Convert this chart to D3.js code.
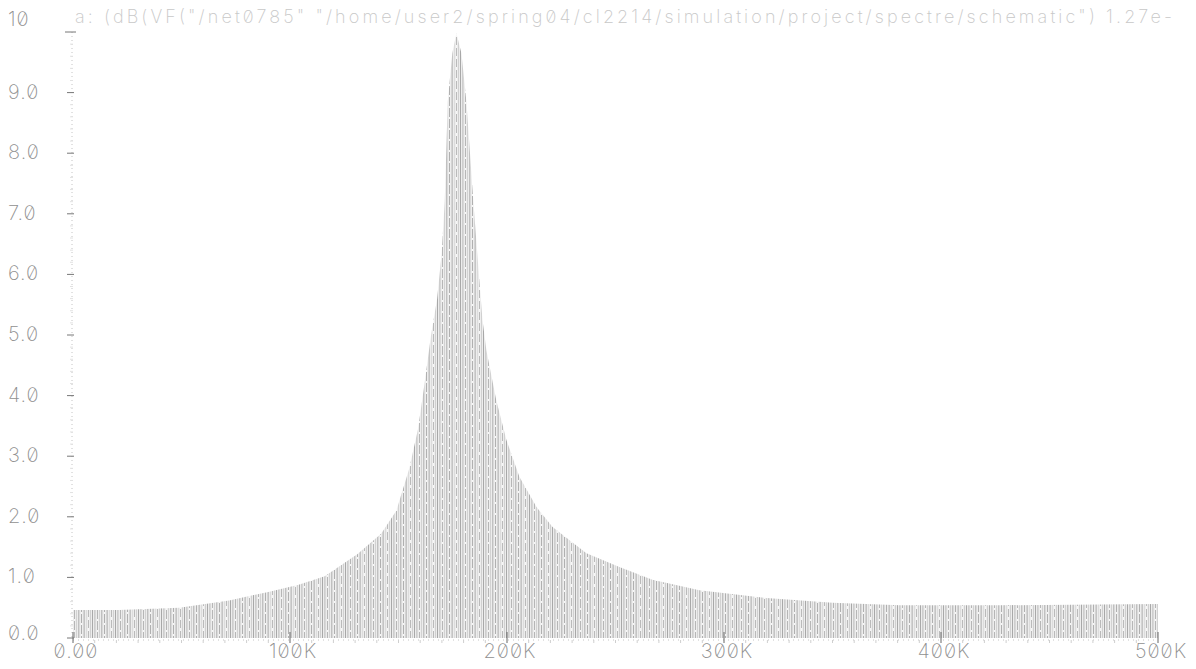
<!DOCTYPE html>
<html>
<head>
<meta charset="utf-8">
<script src="https://cdn.jsdelivr.net/npm/d3@7"></script>
<style>
  html, body { margin: 0; padding: 0; background: #fff; }
  svg text { font-family: Inter, "DejaVu Sans", sans-serif; font-weight: 200; font-feature-settings: "zero" 1; }
</style>
</head>
<body>
<svg width="1196" height="669"></svg>
<script>
"use strict";

// envelope of the trace (frequency in kHz, magnitude)
const freqK = [0, 21, 49, 72, 90, 104, 116, 131, 142, 149, 155, 159, 162, 165, 167.8, 169.9, 171.3, 172.7,
    174.8, 176.7, 179, 181.3, 184.5, 186.3, 188.7, 190.5, 195, 199.7, 205.7, 213.6, 221, 236.6, 251.8, 267,
    288.7, 319.6, 350, 381, 427, 460, 500];
const magnitude = [0.46, 0.46, 0.5, 0.62, 0.76, 0.88, 1.02, 1.38, 1.72, 2.1, 2.8, 3.45, 4.2, 5.0, 5.6, 6.35,
    7.2, 8.85, 9.65, 9.98, 9.65, 8.85, 7.2, 6.35, 5.25, 4.75, 3.93, 3.27, 2.66, 2.16, 1.83, 1.4, 1.17, 0.96,
    0.79, 0.66, 0.58, 0.54, 0.54, 0.55, 0.56];

const xTicks = [0, 100, 200, 300, 400, 500];
const xTickLabels = ["0.00", "100K", "200K", "300K", "400K", "500K"];
const yTicks = [0, 1, 2, 3, 4, 5, 6, 7, 8, 9, 10];
const yTickLabels = ["0.0", "1.0", "2.0", "3.0", "4.0", "5.0", "6.0", "7.0", "8.0", "9.0", "10"];
const title = "a: (dB(VF(\"/net0785\" \"/home/user2/spring04/cl2214/simulation/project/spectre/schematic\") 1.27e-";

window.addEventListener("load", draw);

function draw() {
    const svg = d3.select("svg");

    const x = d3.scaleLinear().domain([0, 500]).range([73, 1158]);
    const y = d3.scaleLinear().domain([0, 10]).range([638, 32]);

    // hatched fill, the plotter draws the trace as dense vertical strokes
    const stripes = [[0, "#a8a8a8"], [2, "#cdcdcd"], [3, "#d8d8d8"], [5, "#b6b6b6"], [7, "#d2d2d2"],
        [9, "#c0c0c0"], [10, "#dadada"], [12, "#b0b0b0"], [14, "#d4d4d4"], [15, "#c4c4c4"],
        [17, "#dcdcdc"], [19, "#bababa"], [21, "#d0d0d0"]];
    const pat = svg.append("defs").append("pattern")
        .attr("id", "hatch")
        .attr("patternUnits", "userSpaceOnUse")
        .attr("width", 23).attr("height", 11);
    pat.append("rect").attr("width", 23).attr("height", 11).attr("fill", "#ededed");
    pat.selectAll("rect.s").data(stripes).enter().append("rect")
        .attr("class", "s")
        .attr("x", d => d[0]).attr("y", 0)
        .attr("width", 1).attr("height", 11)
        .attr("fill", d => d[1]);
    pat.append("rect").attr("x", 5).attr("y", 3).attr("width", 1).attr("height", 2).attr("fill", "#f6f6f6");
    pat.append("rect").attr("x", 12).attr("y", 7).attr("width", 1).attr("height", 2).attr("fill", "#f6f6f6");
    pat.append("rect").attr("x", 19).attr("y", 1).attr("width", 1).attr("height", 3).attr("fill", "#f6f6f6");

    const pts = freqK.map((f, i) => [f, magnitude[i]]);
    const area = d3.area()
        .x(d => x(d[0]))
        .y0(y(0))
        .y1(d => y(d[1]));
    svg.append("path")
        .datum(pts)
        .attr("fill", "url(#hatch)")
        .attr("d", area);

    // axes drawn as plotter style dotted lines
    svg.append("line")
        .attr("x1", x(0) - 1).attr("x2", x(0) - 1)
        .attr("y1", y(10)).attr("y2", y(0))
        .attr("stroke", "#c4c4c4").attr("stroke-dasharray", "1,3");
    svg.append("line")
        .attr("x1", x(0)).attr("x2", x(500))
        .attr("y1", y(0) + 2).attr("y2", y(0) + 2)
        .attr("stroke", "#c4c4c4").attr("stroke-dasharray", "1,4");

    // minor ticks
    svg.append("g").selectAll("line")
        .data(d3.range(0, 10, 0.2).filter(v => Math.abs(v - Math.round(v)) > 0.01))
        .enter().append("line")
        .attr("x1", x(0) - 3).attr("x2", x(0))
        .attr("y1", d => y(d)).attr("y2", d => y(d))
        .attr("stroke", "#e2e2e2");
    svg.append("g").selectAll("line")
        .data(d3.range(10, 500, 10).filter(v => v % 100 !== 0))
        .enter().append("line")
        .attr("x1", d => x(d)).attr("x2", d => x(d))
        .attr("y1", y(0) + 2).attr("y2", y(0) + 5)
        .attr("stroke", "#cfcfcf");

    // major ticks
    svg.append("g").selectAll("line")
        .data(yTicks)
        .enter().append("line")
        .attr("x1", d => d === 10 ? x(0) - 8 : x(0) - 6)
        .attr("x2", d => d === 10 ? x(0) + 3 : x(0) + 1)
        .attr("y1", d => y(d)).attr("y2", d => y(d))
        .attr("stroke", "#777");
    svg.append("g").selectAll("line")
        .data(xTicks)
        .enter().append("line")
        .attr("x1", d => x(d)).attr("x2", d => x(d))
        .attr("y1", y(0) - 6).attr("y2", y(0) + 5)
        .attr("stroke", "#666");

    // tick labels
    svg.append("g").selectAll("text")
        .data(yTicks)
        .enter().append("text")
        .attr("x", 8)
        .attr("y", d => d === 10 ? y(d) - 13 : (d === 0 ? y(d) - 5 : y(d) - 1))
        .attr("dy", "0.35em")
        .attr("font-size", 20)
        .attr("letter-spacing", 1)
        .attr("fill", "#909090")
        .text((d, i) => yTickLabels[i]);
    svg.append("g").selectAll("text")
        .data(xTicks)
        .enter().append("text")
        .attr("x", d => x(d) + 3)
        .attr("y", y(0) + 13)
        .attr("dy", "0.35em")
        .attr("text-anchor", "middle")
        .attr("font-size", 20)
        .attr("letter-spacing", 1)
        .attr("fill", "#909090")
        .text((d, i) => xTickLabels[i]);

    svg.append("text")
        .attr("x", 75)
        .attr("y", 23)
        .attr("font-size", 18)
        .attr("fill", "#c8c8c8")
        .attr("textLength", 1097)
        .attr("lengthAdjust", "spacing")
        .text(title);
}
</script>
</body>
</html>
